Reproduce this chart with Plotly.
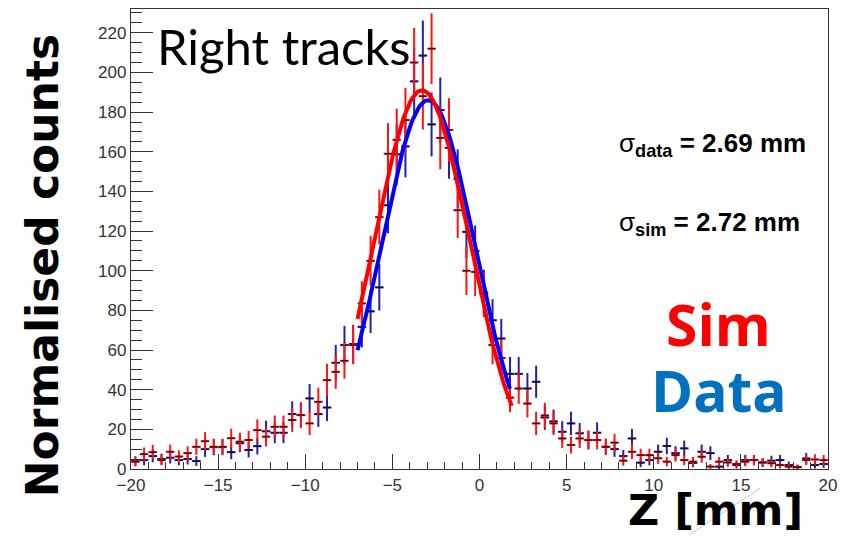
import numpy as np
import plotly.graph_objects as go

# Histogram binning: 80 bins of 0.5 mm between -20 and 20 mm
bin_width = 0.5
z_centers = [-19.75 + bin_width * i for i in range(80)]

# Simulated counts per bin (red)
sim_counts = [
    3.7, 7.5, 8.5, 4.5, 8.7, 6.3, 8.0, 11.2, 14.0, 11.2,
    11.2, 15.5, 13.8, 14.6, 19.6, 16.3, 21.3, 21.3, 24.7, 27.2,
    23.0, 33.9, 44.8, 49.0, 54.6, 62.5, 83.5, 105.0, 127.0, 159.0,
    166.0, 176.0, 205.0, 188.0, 212.0, 167.0, 171.0, 130.5, 100.0, 99.4,
    88.0, 62.5, 56.0, 36.0, 40.6, 33.0, 23.0, 27.0, 23.0, 15.4,
    12.1, 15.4, 14.6, 14.6, 11.2, 13.3, 4.2, 8.7, 7.0, 7.0,
    5.4, 3.7, 7.0, 4.5, 3.7, 6.2, 1.2, 3.7, 3.3, 2.5,
    3.7, 4.5, 3.3, 2.9, 2.0, 1.2, 0.9, 4.5, 4.8, 4.5,
]

# Measured counts per bin (blue)
data_counts = [
    4.0, 4.5, 6.5, 5.0, 5.7, 4.5, 5.0, 4.0, 10.0, 11.0,
    11.0, 8.5, 13.0, 9.6, 11.5, 19.0, 18.3, 18.3, 27.7, 27.2,
    35.6, 27.7, 31.0, 53.6, 62.5, 63.0, 71.7, 79.5, 91.6, 133.0,
    158.7, 162.7, 195.5, 208.5, 173.8, 181.0, 162.0, 146.4, 119.6, 110.0,
    89.0, 75.0, 65.8, 48.0, 48.0, 40.6, 44.0, 26.0, 24.0, 18.8,
    23.0, 18.0, 14.6, 18.3, 11.2, 10.0, 6.5, 15.4, 3.2, 4.5,
    8.7, 11.6, 8.0, 10.4, 3.0, 8.7, 8.0, 1.2, 4.5, 2.0,
    4.5, 4.5, 3.3, 4.2, 4.5, 2.0, 1.0, 5.3, 2.0, 2.5,
]

# Gaussian fit parameters: amplitude, mean [mm], sigma [mm], fit range [mm]
sim_fit = dict(amp=191.0, mean=-3.30, sigma=2.72, zmin=-7.0, zmax=1.85)
data_fit = dict(amp=186.0, mean=-2.95, sigma=2.69, zmin=-7.0, zmax=1.75)

# Weight of one entry after normalisation (sets the Poisson error bars)
entry_weight = 1.5

x_ticks = [-20, -15, -10, -5, 0, 5, 10, 15, 20]
x_ticktext = ["\u221220", "\u221215", "\u221210", "\u22125", "0", "5", "10", "15", "20"]
y_ticks = list(range(0, 221, 20))

SIM_RED = "#ff1414"
DATA_BLUE = "#2222a8"
FIT_RED = "#ff0000"
FIT_BLUE = "#0000ff"

W, H = 845, 536
L, R, T, B = 131, 10, 8, 67
PW, PH = W - L - R, H - T - B


def px(x, y):
    """Pixel position in the page -> paper coordinates."""
    return (x - L) / PW, (H - B - y) / PH


def gauss_curve(p, n=120):
    z = np.linspace(p["zmin"], p["zmax"], n)
    return z, p["amp"] * np.exp(-0.5 * ((z - p["mean"]) / p["sigma"]) ** 2)


def hist_trace(counts, color, name):
    counts = np.asarray(counts)
    return go.Scatter(
        x=z_centers, y=counts, mode="markers", name=name,
        marker=dict(symbol="line-ew", size=5, color="#200000",
                    line=dict(width=1.5, color="rgba(30,0,0,0.8)")),
        error_x=dict(type="constant", value=bin_width / 2, width=0,
                     thickness=2, color=color),
        error_y=dict(type="data", array=np.sqrt(counts * entry_weight),
                     width=0, thickness=2, color=color),
        showlegend=False, cliponaxis=True,
    )


fig = go.Figure()
fig.add_trace(hist_trace(data_counts, DATA_BLUE, "Data"))
fig.add_trace(hist_trace(sim_counts, SIM_RED, "Sim"))

zb, yb = gauss_curve(data_fit)
fig.add_trace(go.Scatter(x=zb, y=yb, mode="lines", line=dict(color=FIT_BLUE, width=4),
                         showlegend=False))
zr, yr = gauss_curve(sim_fit)
fig.add_trace(go.Scatter(x=zr, y=yr, mode="lines", line=dict(color=FIT_RED, width=4),
                         showlegend=False))

tick_font = dict(family="Liberation Sans, Arial, sans-serif", size=17, color="#333333")

fig.update_xaxes(
    range=[-20, 20], tickvals=x_ticks, ticktext=x_ticktext, tickfont=tick_font,
    ticks="inside", ticklen=15, tickwidth=1.3, tickcolor="#333333",
    minor=dict(dtick=1, ticks="inside", ticklen=7, tickwidth=1.3, tickcolor="#333333"),
    showline=True, linecolor="#333333", linewidth=1.3, mirror=True,
    showgrid=False, zeroline=False,
)
fig.update_yaxes(
    range=[0, 232], tickvals=y_ticks, tickfont=tick_font,
    ticks="inside", ticklen=22, tickwidth=1.3, tickcolor="#333333",
    minor=dict(dtick=5, ticks="inside", ticklen=11, tickwidth=1.3, tickcolor="#333333"),
    showline=True, linecolor="#333333", linewidth=1.3, mirror=True,
    showgrid=False, zeroline=False,
)

annotations = []


def label(text, x, y, size, color="#000000", family="Lato, sans-serif",
          xanchor="center", yanchor="middle", angle=0):
    ax, ay = px(x, y)
    annotations.append(dict(
        text=text, x=ax, y=ay, xref="paper", yref="paper", showarrow=False,
        xanchor=xanchor, yanchor=yanchor, textangle=angle,
        font=dict(family=family, size=size, color=color),
    ))


BOLD_TITLE = "DejaVu Sans, Verdana, sans-serif"
HELV = "Liberation Sans, Arial, sans-serif"

label("Right tracks", 155, 45, 49, xanchor="left")
label("<b>Normalised counts</b>", 42, 265, 44, family=BOLD_TITLE, angle=-90)
label("<b>Z [mm]</b>", 721, 510, 43, family=BOLD_TITLE)
label("<b>Sim</b>", 724, 324, 57, color="#ff0000", family="Open Sans, sans-serif")
label("<b>Data</b>", 725, 390, 57, color="#0070c0", family="Open Sans, sans-serif")
label("\u03c3<b><sub>data</sub> = 2.69 mm</b>", 622, 144, 26, family=HELV, xanchor="left")
label("\u03c3<b><sub>sim</sub> = 2.72 mm</b>", 622, 223, 26, family=HELV, xanchor="left")

x0, y0 = px(695, 535)
x1, y1 = px(767, 488)

fig.update_layout(
    width=W, height=H,
    margin=dict(l=L, r=R, t=T, b=B),
    paper_bgcolor="white", plot_bgcolor="white",
    annotations=annotations,
    shapes=[dict(type="line", xref="paper", yref="paper", x0=x0, y0=y0, x1=x1, y1=y1,
                 line=dict(color="#c8c8c8", width=1))],
)

fig.write_html("out.html")
